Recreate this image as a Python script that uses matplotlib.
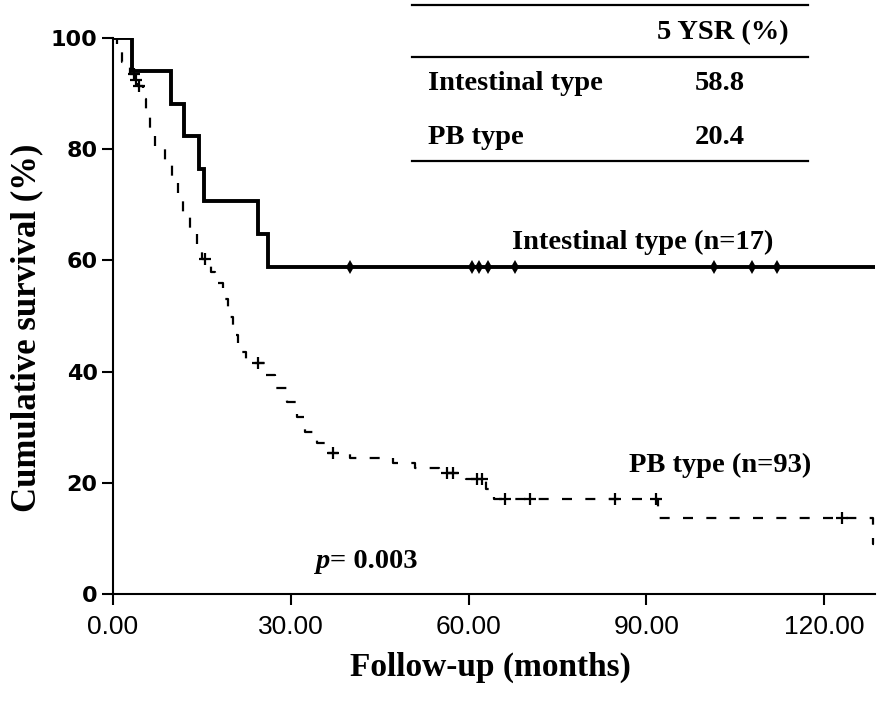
import numpy as np
import matplotlib
matplotlib.use("Agg")
import matplotlib.pyplot as plt
from matplotlib.lines import Line2D

### Donnees (mois, survie %)
int_t = [0, 3.2, 9.8, 12.0, 14.5, 15.4, 24.5, 26.2, 128.4]
int_s = [100, 94.1, 88.2, 82.4, 76.5, 70.6, 64.7, 58.8, 58.8]
int_cens_t = [40.0, 60.6, 61.8, 63.3, 67.9, 101.5, 107.9, 112.0]
int_cens_s = [58.8] * 8

pb_t = [0, 0.6, 1.5, 2.8, 3.8, 4.3, 5.0, 5.6, 6.3, 7.1, 8.8, 10.0, 11.0, 11.8,
        13.0, 14.2, 15.0, 16.5, 17.2, 18.6, 19.4, 20.3, 21.1, 22.5, 25.8, 27.4,
        29.4, 31.1, 32.4, 34.5, 36.0, 40.0, 47.3, 51.0, 55.0, 59.5, 63.0, 64.3,
        91.9, 128.3, 128.4]
pb_s = [100, 97.8, 95.7, 93.5, 92.4, 91.3, 89.1, 87.0, 83.7, 80.4, 77.2, 74.0,
        71.0, 68.0, 65.0, 62.4, 60.2, 58.0, 56.0, 53.0, 49.8, 46.6, 43.5, 41.5,
        39.4, 37.0, 34.5, 31.8, 29.1, 27.2, 25.4, 24.5, 23.6, 22.7, 21.8, 20.6,
        18.8, 17.1, 13.7, 9.0, 9.0]
pb_cens_t = [3.5, 3.9, 4.4, 15.5, 24.5, 37.2, 56.4, 57.4, 61.5, 62.3, 66.2, 70.4,
             84.8, 91.6, 123.1]
pb_cens_s = [93.5, 92.4, 91.3, 60.2, 41.5, 25.4, 21.8, 21.8, 20.6, 20.6, 17.1,
             17.1, 17.1, 17.1, 13.7]

xticks = [0, 30, 60, 90, 120]
yticks = [0, 20, 40, 60, 80, 100]

W, H = 886, 702
def fx(x):
    return x / W
def fy(y):
    return 1 - y / H

serif = "Liberation Serif"

fig = plt.figure(figsize=(W / 100, H / 100), dpi=100)
ax = fig.add_axes([fx(113), fy(594), fx(875) - fx(113), fy(38) - fy(594)])

ax.step(int_t, int_s, where='post', color='black', lw=2.8, solid_joinstyle='miter')
ax.plot(int_cens_t, int_cens_s, 'd', color='black', ms=7, mew=0)

ax.step(pb_t, pb_s, where='post', color='black', lw=1.6, dashes=(4.5, 6))
ax.plot(pb_cens_t, pb_cens_s, '+', color='black', ms=8, mew=1.6)

ax.set_xlim(0, 128.6)
ax.set_ylim(0, 100)
ax.spines['top'].set_visible(False)
ax.spines['right'].set_visible(False)
ax.spines['left'].set_linewidth(1.5)
ax.spines['bottom'].set_linewidth(1.5)
ax.set_xticks(xticks)
ax.set_xticklabels(["%.2f" % v for v in xticks], fontfamily="Liberation Sans", fontsize=19)
ax.set_yticks(yticks)
ax.set_yticklabels([str(v) for v in yticks], fontfamily="DejaVu Sans", fontweight='bold', fontsize=16)
ax.tick_params(axis='both', direction='out', length=8, width=1.5, color='black')
ax.tick_params(axis='x', pad=7)
ax.tick_params(axis='y', pad=3)

fig.text(fx(490), fy(667), "Follow-up (months)", fontfamily=serif, fontweight='bold',
         fontsize=24, ha='center', va='center')
fig.text(fx(27), fy(328), "Cumulative survival (%)", fontfamily=serif, fontweight='bold',
         fontsize=25, ha='center', va='center', rotation=90)

fig.text(fx(643), fy(242), "Intestinal type (n=17)", fontfamily=serif, fontweight='bold',
         fontsize=20.5, ha='center', va='center')
fig.text(fx(720), fy(465), "PB type (n=93)", fontfamily=serif, fontweight='bold',
         fontsize=20.5, ha='center', va='center')
fig.text(fx(315), fy(562), "p", fontfamily=serif, fontweight='bold', style='italic',
         fontsize=20.5, ha='left', va='center')
fig.text(fx(330), fy(562), "= 0.003", fontfamily=serif, fontweight='bold',
         fontsize=20.5, ha='left', va='center')

### Tableau 5 YSR
for yl in [5, 57, 161]:
    fig.add_artist(Line2D([fx(412), fx(808)], [fy(yl), fy(yl)], color='black', lw=1.6))
fig.text(fx(723), fy(33), "5 YSR (%)", fontfamily=serif, fontweight='bold', fontsize=20.5,
         ha='center', va='center')
fig.text(fx(428), fy(84), "Intestinal type", fontfamily=serif, fontweight='bold', fontsize=20.5,
         ha='left', va='center')
fig.text(fx(720), fy(84), "58.8", fontfamily=serif, fontweight='bold', fontsize=20.5,
         ha='center', va='center')
fig.text(fx(428), fy(137), "PB type", fontfamily=serif, fontweight='bold', fontsize=20.5,
         ha='left', va='center')
fig.text(fx(720), fy(137), "20.4", fontfamily=serif, fontweight='bold', fontsize=20.5,
         ha='center', va='center')

fig.savefig("out.png", dpi=100)
